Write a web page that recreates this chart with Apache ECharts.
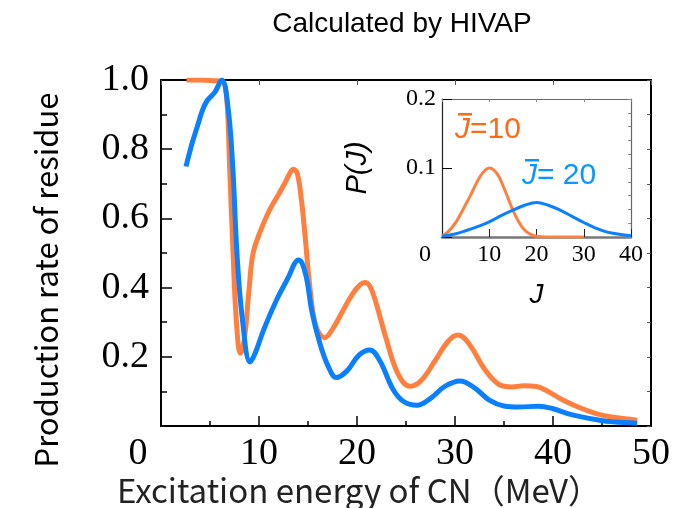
<!DOCTYPE html>
<html>
<head>
<meta charset="utf-8">
<script src="https://cdn.jsdelivr.net/npm/echarts@6/dist/echarts.min.js"></script>
<style>
  html, body { margin: 0; padding: 0; background: #fff; }
  #chart { width: 693px; height: 508px; }
</style>
</head>
<body>
<div id="chart"></div>
<script>
// main panel: production rate vs excitation energy
var energyOrange = [2.6, 4, 5.5, 6.3, 6.7, 7.0, 7.35, 7.7, 8.1, 8.5, 9.0, 9.4, 10.1, 11, 12, 12.6, 13.1, 13.5, 13.9, 14.3, 14.7, 15.2, 15.8, 16.7, 17.5, 18.5, 19.5, 20.3, 20.8, 21.3, 21.9, 23, 24.2, 25.4, 26.5, 28, 29.3, 30.3, 31.5, 33, 34.5, 35.8, 37, 38.3, 39.5, 41, 42.8, 44.5, 46, 48.6];
var rateOrange = [1.0, 1.0, 0.998, 0.995, 0.95, 0.75, 0.5, 0.3, 0.21, 0.25, 0.4, 0.5, 0.56, 0.62, 0.67, 0.70, 0.728, 0.742, 0.73, 0.66, 0.55, 0.40, 0.29, 0.255, 0.28, 0.33, 0.38, 0.408, 0.415, 0.405, 0.36, 0.25, 0.15, 0.115, 0.13, 0.19, 0.245, 0.263, 0.235, 0.165, 0.12, 0.113, 0.116, 0.114, 0.10, 0.075, 0.052, 0.035, 0.026, 0.017];

var energyBlue = [2.55, 3.2, 3.7, 4.2, 4.7, 5.5, 6.2, 6.8, 7.3, 7.75, 8.3, 9.1, 9.6, 10.5, 11.8, 13, 13.6, 14, 14.4, 14.9, 15.4, 16.2, 17.1, 17.9, 19, 20.2, 21.3, 22.3, 23.7, 24.8, 26.1, 27.5, 29, 30.5, 32, 33.5, 35, 36.5, 38.5, 40, 41.5, 42.8, 44.5, 46.1, 48.6];
var rateBlue = [0.75, 0.82, 0.865, 0.91, 0.94, 0.965, 1.0, 0.93, 0.76, 0.5, 0.31, 0.185, 0.21, 0.28, 0.365, 0.43, 0.468, 0.48, 0.47, 0.42, 0.33, 0.24, 0.17, 0.14, 0.16, 0.205, 0.22, 0.19, 0.105, 0.07, 0.06, 0.08, 0.115, 0.13, 0.11, 0.075, 0.058, 0.055, 0.057, 0.05, 0.036, 0.027, 0.018, 0.012, 0.008];

// inset: spin distributions
var jOrange = [0, 1, 2, 3, 4, 5, 6, 7, 8, 9, 10, 11, 12, 13, 14, 15, 16, 17, 18, 19, 20, 22, 25, 30];
var pOrange = [0.002, 0.006, 0.013, 0.022, 0.034, 0.047, 0.06, 0.074, 0.087, 0.096, 0.1, 0.097, 0.088, 0.073, 0.056, 0.039, 0.025, 0.014, 0.007, 0.003, 0.001, 0, 0, 0];
var jBlue = [0, 2.5, 5, 7.5, 10, 12.5, 15, 17.5, 20, 22.5, 25, 27.5, 30, 32.5, 35, 37.5, 40];
var pBlue = [0.001, 0.004, 0.009, 0.015, 0.022, 0.031, 0.039, 0.046, 0.05, 0.046, 0.039, 0.03, 0.021, 0.013, 0.007, 0.004, 0.002];

var ORANGE = '#ff7f3f';
var BLUE = '#0a80ff';
var SERIF = '"Liberation Serif", "DejaVu Serif", serif';
var SANS = '"Noto Sans CJK JP", "Liberation Sans", sans-serif';
var ARIAL = '"Liberation Sans", Arial, sans-serif';

function pairs(xs, ys) {
  return xs.map(function (x, i) { return [x, ys[i]]; });
}

// onZero off, otherwise the box lines go missing with the mirrored axes
function line(color, width) {
  return { show: true, onZero: false, lineStyle: { color: color, width: width } };
}

var chart = echarts.init(document.getElementById('chart'));

function jbar(x, y, text, color) {
  // label with an overlined italic J
  return [{
    type: 'text', x: x, y: y,
    style: {
      text: '{i|J}{n|' + text + '}', verticalAlign: 'middle',
      rich: {
        i: { fontFamily: ARIAL, fontStyle: 'italic', fontSize: 30, fill: color },
        n: { fontFamily: ARIAL, fontSize: 30, fill: color }
      }
    }
  }, {
    type: 'rect', shape: { x: x + 3, y: y - 17, width: 14, height: 2.5 },
    style: { fill: color }
  }];
}

chart.setOption({
  animation: false,
  title: {
    text: 'Calculated by HIVAP',
    left: 397,
    top: 5,
    textAlign: 'center',
    textStyle: { fontFamily: ARIAL, fontSize: 28, fontWeight: 'normal', color: '#000' }
  },
  grid: [
    { left: 161, top: 80, right: 42, bottom: 82 },
    { left: 442, top: 99, right: 62, bottom: 271 }
  ],
  xAxis: [{
    type: 'value', gridIndex: 0, min: 0, max: 50, interval: 10,
    axisLine: line('#000', 2),
    axisTick: { show: true, inside: true, length: 10, lineStyle: { width: 1.5, color: '#000' } },
    minorTick: { show: true, splitNumber: 2, length: 5, lineStyle: { width: 1.5, color: '#000' } },
    splitLine: { show: false },
    axisLabel: {
      margin: 9, color: '#000', fontFamily: SERIF, fontSize: 38,
      formatter: function (v) { return v === 0 ? '{z|0}' : String(v); },
      rich: { z: { fontFamily: SERIF, fontSize: 38, color: '#000', padding: [0, 46, 0, 0] } }
    }
  }, {
    type: 'value', gridIndex: 0, position: 'top', min: 0, max: 50, interval: 10,
    axisLine: line('#000', 2),
    axisTick: { show: true, inside: true, length: 5, lineStyle: { color: '#555' } },
    axisLabel: { show: false }, splitLine: { show: false }
  }, {
    type: 'value', gridIndex: 1, min: 0, max: 40, interval: 10,
    name: 'J', nameLocation: 'middle', nameGap: 44,
    nameTextStyle: { fontFamily: ARIAL, fontStyle: 'italic', fontSize: 28, color: '#000' },
    axisLine: line('#777', 2.5),
    axisTick: { show: true, inside: true, length: 8, lineStyle: { color: '#222' } },
    splitLine: { show: false },
    axisLabel: {
      margin: 6, color: '#000', fontFamily: SERIF, fontSize: 24,
      formatter: function (v) { return v === 0 ? '{z|0}' : String(v); },
      rich: { z: { fontFamily: SERIF, fontSize: 24, color: '#000', padding: [0, 34, 0, 0] } }
    }
  }, {
    type: 'value', gridIndex: 1, position: 'top', min: 0, max: 40, interval: 10,
    axisLine: line('#666', 1.2),
    axisTick: { show: true, inside: true, length: 3, lineStyle: { color: '#888' } },
    axisLabel: { show: false }, splitLine: { show: false }
  }],
  yAxis: [{
    type: 'value', gridIndex: 0, min: 0, max: 1, interval: 0.2,
    axisLine: line('#000', 2),
    axisTick: { show: true, inside: true, length: 11, lineStyle: { width: 1.5, color: '#000' } },
    minorTick: { show: true, splitNumber: 2, length: 6, lineStyle: { width: 1.5, color: '#000' } },
    splitLine: { show: false },
    axisLabel: {
      margin: 12, color: '#000', fontFamily: SERIF, fontSize: 38,
      formatter: function (v) { return v === 0 ? '' : v.toFixed(1); }
    }
  }, {
    type: 'value', gridIndex: 0, position: 'right', min: 0, max: 1, interval: 0.1,
    axisLine: line('#000', 2),
    axisTick: { show: true, inside: true, length: 4, lineStyle: { color: '#555' } },
    axisLabel: { show: false }, splitLine: { show: false }
  }, {
    type: 'value', gridIndex: 1, min: 0, max: 0.2, interval: 0.1,
    name: 'P(J)', nameLocation: 'middle', nameGap: 70,
    nameTextStyle: { fontFamily: ARIAL, fontStyle: 'italic', fontSize: 29, color: '#000' },
    axisLine: line('#222', 1.2),
    axisTick: { show: true, inside: true, length: 10, lineStyle: { color: '#000' } },
    splitLine: { show: false },
    axisLabel: {
      margin: 6, color: '#000', fontFamily: SERIF, fontSize: 24,
      formatter: function (v) { return v === 0 ? '' : v.toFixed(1); }
    }
  }, {
    type: 'value', gridIndex: 1, position: 'right', min: 0, max: 0.2, interval: 0.1,
    axisLine: line('#666', 1.2),
    axisTick: { show: true, inside: true, length: 3, lineStyle: { color: '#888' } },
    minorTick: { show: true, splitNumber: 5, length: 3, lineStyle: { color: '#888' } },
    axisLabel: { show: false }, splitLine: { show: false }
  }],
  graphic: [{
    type: 'text', x: 46, y: 280, rotation: Math.PI / 2,
    style: { text: 'Production rate of residue', fontFamily: SANS, fontSize: 31, fill: '#000', align: 'center', verticalAlign: 'middle' }
  }, {
    type: 'text', x: 359, y: 490,
    style: { text: 'Excitation energy of CN（MeV）', fontFamily: SANS, fontSize: 33, fill: '#222', align: 'center', verticalAlign: 'middle' }
  }].concat(jbar(455, 130, '=10', '#ff6a13'), jbar(522, 176, '= 20', '#0a96ff')),
  series: [{
    type: 'line', xAxisIndex: 0, yAxisIndex: 0, smooth: 0.4, showSymbol: false,
    lineStyle: { color: ORANGE, width: 5 },
    data: pairs(energyOrange, rateOrange)
  }, {
    type: 'line', xAxisIndex: 0, yAxisIndex: 0, smooth: 0.4, showSymbol: false,
    lineStyle: { color: BLUE, width: 5 },
    data: pairs(energyBlue, rateBlue)
  }, {
    type: 'line', xAxisIndex: 2, yAxisIndex: 2, smooth: 0.4, showSymbol: false,
    lineStyle: { color: ORANGE, width: 3 },
    data: pairs(jOrange, pOrange)
  }, {
    type: 'line', xAxisIndex: 2, yAxisIndex: 2, smooth: 0.4, showSymbol: false,
    lineStyle: { color: BLUE, width: 3 },
    data: pairs(jBlue, pBlue)
  }]
});
</script>
</body>
</html>
